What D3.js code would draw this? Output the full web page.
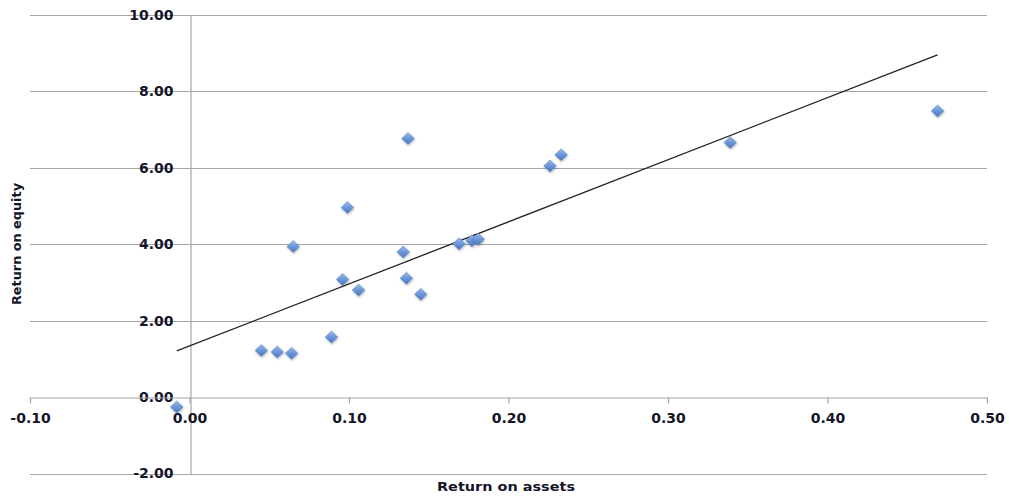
<!DOCTYPE html>
<html>
<head>
<meta charset="utf-8">
<script src="https://cdn.jsdelivr.net/npm/d3@7"></script>
<style>
  html, body { margin: 0; padding: 0; background: #fff; }
  svg { display: block; }
  text { font-family: "DejaVu Sans", Verdana, sans-serif; font-weight: bold; fill: #15152a; }
</style>
</head>
<body>
<svg id="chart" width="1009" height="496"></svg>
<script>
// Return on assets (x) and Return on equity (y)
const roa = [-0.008, 0.045, 0.055, 0.064, 0.089, 0.065, 0.096, 0.106, 0.099, 0.137,
             0.134, 0.136, 0.145, 0.169, 0.177, 0.181, 0.226, 0.233, 0.339, 0.469];
const roe = [-0.26, 1.22, 1.18, 1.15, 1.57, 3.94, 3.08, 2.80, 4.96, 6.77,
             3.80, 3.11, 2.69, 4.01, 4.09, 4.13, 6.05, 6.34, 6.66, 7.49];
const xTicks = [-0.10, 0.00, 0.10, 0.20, 0.30, 0.40, 0.50];
const yTicks = [-2, 0, 2, 4, 6, 8, 10];
const xTitle = "Return on assets";
const yTitle = "Return on equity";

const svg = d3.select("#chart");
const x = d3.scaleLinear().domain([-0.10, 0.50]).range([30, 987]);
const y = d3.scaleLinear().domain([-2, 10]).range([473.5, 15]);
const grid = "#a6a6a6";
const fmt = d => d3.format(".2f")(d).replace("\u2212", "-");

// defs: marker gradient + shadow
const defs = svg.append("defs");
const grad = defs.append("linearGradient").attr("id", "mk").attr("x1", 0).attr("y1", 0).attr("x2", 0).attr("y2", 1);
grad.append("stop").attr("offset", "0%").attr("stop-color", "#98b9ec");
grad.append("stop").attr("offset", "55%").attr("stop-color", "#6893d6");
grad.append("stop").attr("offset", "100%").attr("stop-color", "#4874ba");
const flt = defs.append("filter").attr("id", "sh").attr("x", "-50%").attr("y", "-50%").attr("width", "200%").attr("height", "200%");
flt.append("feDropShadow").attr("dx", 0.6).attr("dy", 1.2).attr("stdDeviation", 0.9).attr("flood-color", "#000").attr("flood-opacity", 0.3);

// horizontal gridlines
svg.append("g").selectAll("line").data(yTicks.filter(d => d !== 0)).join("line")
  .attr("x1", x(-0.10)).attr("x2", x(0.50))
  .attr("y1", d => Math.round(y(d)) + 0.5).attr("y2", d => Math.round(y(d)) + 0.5)
  .attr("stroke", grid).attr("stroke-width", 1.2);

// y axis line at x=0
const yAxisG = svg.append("g").attr("transform", `translate(${Math.round(x(0)) + 0.5},0)`)
  .call(d3.axisLeft(y).tickValues(yTicks).tickSize(0).tickPadding(17).tickFormat(fmt));
yAxisG.select(".domain").attr("stroke", grid).attr("stroke-width", 1.2);
yAxisG.selectAll("text").attr("font-size", 14).attr("font-family", "DejaVu Sans").attr("font-weight", "bold").attr("fill", "#15152a");

// x axis line at y=0
const xAxisG = svg.append("g").attr("transform", `translate(0,${Math.round(y(0)) + 0.5})`)
  .call(d3.axisBottom(x).tickValues(xTicks).tickSizeInner(6).tickSizeOuter(0).tickPadding(10).tickFormat(fmt));
xAxisG.select(".domain").attr("stroke", grid).attr("stroke-width", 1.2);
xAxisG.selectAll(".tick line").attr("stroke", grid).attr("stroke-width", 1.2);
xAxisG.selectAll("text").attr("font-size", 14).attr("font-family", "DejaVu Sans").attr("font-weight", "bold").attr("fill", "#15152a");

// linear trendline (least squares over the data)
const n = roa.length;
const mx = d3.mean(roa), my = d3.mean(roe);
let sxy = 0, sxx = 0;
for (let i = 0; i < n; i++) { sxy += (roa[i] - mx) * (roe[i] - my); sxx += (roa[i] - mx) ** 2; }
const slope = sxy / sxx, icpt = my - slope * mx;
const x0 = d3.min(roa), x1 = d3.max(roa);
svg.append("line")
  .attr("x1", x(x0)).attr("y1", y(icpt + slope * x0))
  .attr("x2", x(x1)).attr("y2", y(icpt + slope * x1))
  .attr("stroke", "#222").attr("stroke-width", 1.3);

// diamond markers
const diamond = "M0,-6L6.3,0L0,6L-6.3,0Z";
svg.append("g").selectAll("path").data(d3.range(n)).join("path")
  .attr("d", diamond)
  .attr("transform", i => `translate(${x(roa[i])},${y(roe[i])})`)
  .attr("fill", "url(#mk)")
  .attr("stroke", "#5683c4").attr("stroke-width", 0.5)
  .attr("filter", "url(#sh)");

// axis titles
svg.append("text").attr("x", 506).attr("y", 491).attr("text-anchor", "middle")
  .attr("font-size", 12.5).attr("textLength", 138).attr("lengthAdjust", "spacingAndGlyphs").text(xTitle);
svg.append("text").attr("transform", "translate(21,244) rotate(-90)").attr("text-anchor", "middle")
  .attr("font-size", 12).attr("textLength", 122).attr("lengthAdjust", "spacingAndGlyphs").text(yTitle);
</script>
</body>
</html>
